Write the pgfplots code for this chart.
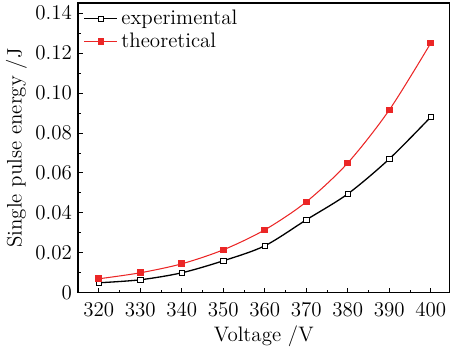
\documentclass[border=0pt]{standalone}
\usepackage{pgfplots}
\pgfplotsset{compat=1.18}
\definecolor{myred}{rgb}{0.92,0.15,0.15}
\begin{document}
\begin{tikzpicture}
\begin{axis}[
  scale only axis,
  width=212.5pt, height=165.7pt,
  xmin=315, xmax=404.5,
  ymin=0, ymax=0.145,
  xtick={320,330,...,400},
  ytick={0,0.02,0.04,0.06,0.08,0.10,0.12,0.14},
  yticklabels={0,0.02,0.04,0.06,0.08,0.10,0.12,0.14},
  minor x tick num=1, minor y tick num=1,
  tick align=inside,
  xtick pos=bottom, ytick pos=left,
  major tick length=3pt, minor tick length=1.8pt,
  every tick/.style={line width=0.5pt},
  tick label style={font=\fontsize{12}{14}\selectfont},
  label style={font=\fontsize{12}{14}\selectfont},
  xticklabel style={yshift=-2.5pt},
  xlabel={Voltage /V},
  ylabel={Single pulse energy /J},
  xlabel style={yshift=2pt},
  ylabel style={yshift=-2pt},
  axis line style={line width=0.8pt},
  legend style={draw=none, fill=none, at={(0.01,0.995)}, anchor=north west,
    font=\fontsize{12}{14}\selectfont, row sep=-1pt, inner sep=1pt},
  legend cell align=left,
  legend image code/.code={
    \draw[mark repeat=2,mark phase=2] plot coordinates {(0cm,0cm) (0.33cm,0cm) (0.66cm,0cm)};},
]
\addplot[black, line width=0.75pt, smooth, mark=square*, mark options={fill=white, solid, line width=0.4pt}, mark size=1.6pt]
coordinates {(320,0.005) (330,0.0065) (340,0.0100) (350,0.0160) (360,0.0235) (370,0.0365) (380,0.0495) (390,0.0670) (400,0.0880)};
\addlegendentry{experimental}
\addplot[myred, line width=0.6pt, smooth, mark=square*, mark options={fill=myred, solid}, mark size=1.6pt]
coordinates {(320,0.0070) (330,0.0100) (340,0.0145) (350,0.0215) (360,0.0315) (370,0.0455) (380,0.0650) (390,0.0915) (400,0.1250)};
\addlegendentry{theoretical}
\end{axis}
\end{tikzpicture}
\end{document}
